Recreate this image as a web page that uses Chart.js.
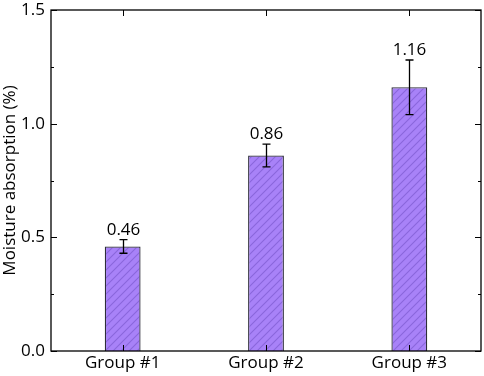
<!DOCTYPE html>
<html lang="en">
<head>
    <meta charset="UTF-8">
    <title>Moisture absorption</title>
    <script src="https://cdn.jsdelivr.net/npm/chart.js"></script>
    <style>
        html, body { margin: 0; padding: 0; background: #fff; }
        #chart { display: block; }
    </style>
</head>
<body>
    <canvas id="chart" width="484" height="376"></canvas>

    <script>
        // chart data
        const groups = ['Group #1', 'Group #2', 'Group #3'];
        const absorption = [0.46, 0.86, 1.16];
        const absorptionErr = [0.03, 0.05, 0.12];
        const yTicks = [0, 0.5, 1.0, 1.5];
        const yMinorTicks = [0.25, 0.75, 1.25];

        const FONT = '"Open Sans", "Noto Sans", sans-serif';

        // hatched purple fill
        function makeHatch() {
            const s = 8;
            const c = document.createElement('canvas');
            c.width = s;
            c.height = s;
            const g = c.getContext('2d');
            g.fillStyle = '#a882f8';
            g.fillRect(0, 0, s, s);
            g.strokeStyle = '#8a66dc';
            g.lineWidth = 1.1;
            g.beginPath();
            g.moveTo(0, s);
            g.lineTo(s, 0);
            g.moveTo(-1, 1);
            g.lineTo(1, -1);
            g.moveTo(s - 1, s + 1);
            g.lineTo(s + 1, s - 1);
            g.stroke();
            return g.createPattern(c, 'repeat');
        }

        // frame with inward ticks on all four sides
        const framePlugin = {
            id: 'frame',
            afterDraw(chart) {
                const ctx = chart.ctx;
                const a = chart.chartArea;
                const x = chart.scales.x;
                const y = chart.scales.y;
                ctx.save();
                ctx.strokeStyle = '#000';
                ctx.lineWidth = 1.3;
                ctx.strokeRect(a.left, a.top, a.right - a.left, a.bottom - a.top);
                ctx.lineWidth = 1;
                ctx.beginPath();
                yTicks.forEach(v => {
                    const py = Math.round(y.getPixelForValue(v)) + 0.5;
                    ctx.moveTo(a.left, py); ctx.lineTo(a.left + 6, py);
                    ctx.moveTo(a.right, py); ctx.lineTo(a.right - 6, py);
                });
                yMinorTicks.forEach(v => {
                    const py = Math.round(y.getPixelForValue(v)) + 0.5;
                    ctx.moveTo(a.left, py); ctx.lineTo(a.left + 3, py);
                    ctx.moveTo(a.right, py); ctx.lineTo(a.right - 3, py);
                });
                groups.forEach((g, i) => {
                    const px = Math.round(x.getPixelForValue(i)) + 0.5;
                    ctx.moveTo(px, a.bottom); ctx.lineTo(px, a.bottom - 6);
                    ctx.moveTo(px, a.top); ctx.lineTo(px, a.top + 6);
                });
                ctx.stroke();
                ctx.restore();
            }
        };

        // error bars and value labels
        const errorPlugin = {
            id: 'errorBars',
            afterDatasetsDraw(chart) {
                const ctx = chart.ctx;
                const x = chart.scales.x;
                const y = chart.scales.y;
                ctx.save();
                ctx.strokeStyle = '#000';
                ctx.lineWidth = 1.3;
                ctx.fillStyle = '#000';
                ctx.font = '17px ' + FONT;
                ctx.textAlign = 'center';
                ctx.textBaseline = 'bottom';
                absorption.forEach((v, i) => {
                    const px = Math.round(x.getPixelForValue(i)) + 0.5;
                    const top = y.getPixelForValue(v + absorptionErr[i]);
                    const bot = y.getPixelForValue(v - absorptionErr[i]);
                    ctx.beginPath();
                    ctx.moveTo(px, top); ctx.lineTo(px, bot);
                    ctx.moveTo(px - 4, top); ctx.lineTo(px + 4, top);
                    ctx.moveTo(px - 4, bot); ctx.lineTo(px + 4, bot);
                    ctx.stroke();
                    ctx.fillText(v.toFixed(2), px, top - 1);
                });
                ctx.restore();
            }
        };

        const ctx = document.getElementById('chart').getContext('2d');
        new Chart(ctx, {
            type: 'bar',
            data: {
                labels: groups,
                datasets: [{
                    data: absorption,
                    backgroundColor: makeHatch(),
                    borderColor: '#2e2e3a',
                    borderWidth: 1.3,
                    barPercentage: 0.25,
                    categoryPercentage: 1.0
                }]
            },
            options: {
                responsive: false,
                animation: false,
                layout: { padding: { top: 10, right: 3, left: 0, bottom: 0 } },
                plugins: {
                    legend: { display: false },
                    tooltip: { enabled: false }
                },
                scales: {
                    x: {
                        grid: { display: false, drawTicks: false },
                        border: { display: false },
                        ticks: { color: '#000', font: { family: FONT, size: 17 }, padding: 2 },
                        afterFit(scale) {
                            scale.height = 25;
                            scale.paddingLeft = 0;
                            scale.paddingRight = 0;
                        }
                    },
                    y: {
                        min: 0,
                        max: 1.5,
                        grid: { display: false, drawTicks: false },
                        border: { display: false },
                        ticks: {
                            stepSize: 0.5,
                            color: '#000',
                            padding: 6,
                            font: { family: FONT, size: 17 },
                            callback: v => Number(v).toFixed(1)
                        },
                        title: {
                            display: true,
                            text: 'Moisture absorption (%)',
                            color: '#000',
                            font: { family: FONT, size: 17 },
                            padding: 0
                        },
                        afterFit(scale) {
                            scale.width = 51;
                            scale.paddingTop = 0;
                            scale.paddingBottom = 0;
                        }
                    }
                }
            },
            plugins: [framePlugin, errorPlugin]
        });
    </script>
</body>
</html>
